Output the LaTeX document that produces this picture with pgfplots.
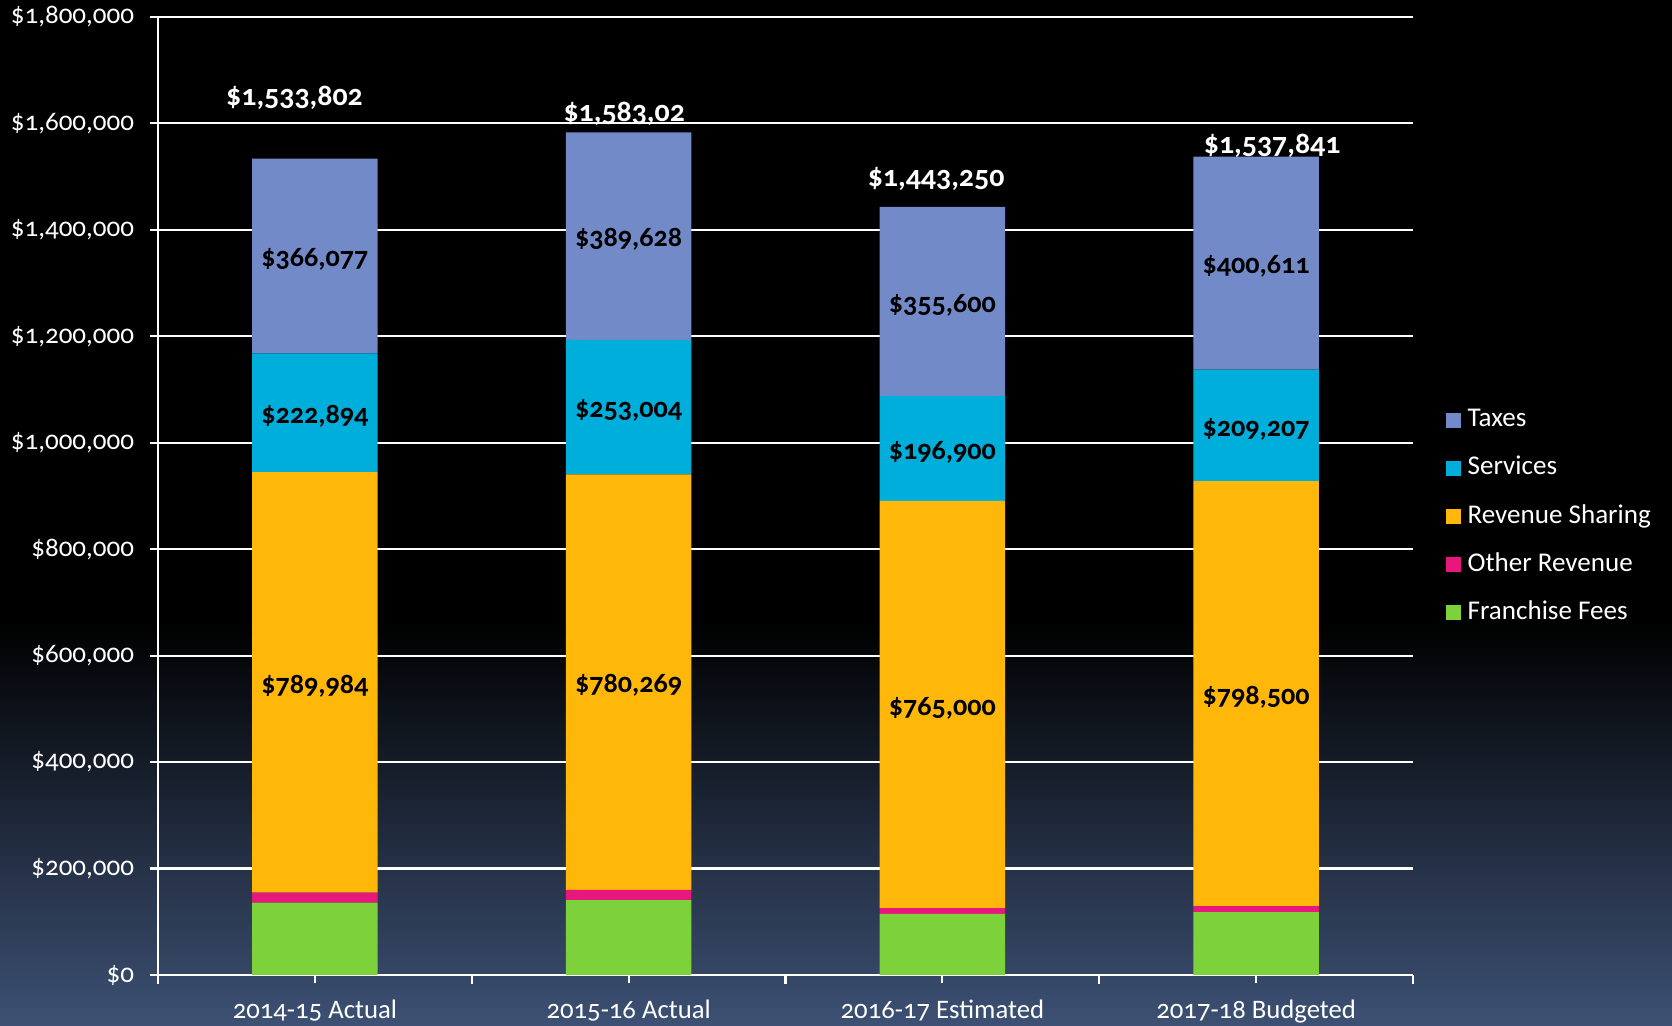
\documentclass[border=0pt]{standalone}
\usepackage{pgfplots}
\pgfplotsset{compat=1.18}
\usepackage{fontspec}
\setmainfont{Carlito}[Numbers=OldStyle]
\definecolor{cTax}{RGB}{114,138,200}
\definecolor{cSer}{RGB}{0,174,219}
\definecolor{cRev}{RGB}{255,183,10}
\definecolor{cOth}{RGB}{232,23,125}
\definecolor{cFra}{RGB}{125,209,58}
\definecolor{bgBot}{RGB}{61,81,116}
\pgfplotsset{sqlegend/.style={legend image code/.code={\fill[##1,draw=none] (0cm,-0.075cm) rectangle (0.15cm,0.075cm);}}}
\tikzset{seg/.style={font=\bfseries\fontsize{8}{9}\selectfont, text=black, yshift=-0.35mm},
         tot/.style={font=\bfseries\fontsize{8.5}{10}\selectfont, text=white, yshift=-0.15mm}}
\begin{document}
\begin{tikzpicture}
\fill[black] (0,0) rectangle (16.72,10.26);
\shade[top color=black, bottom color=bgBot] (0,0) rectangle (16.72,4.05);
\begin{axis}[
  at={(1.58cm,0.51cm)}, anchor=south west,
  scale only axis, width=12.55cm, height=9.58cm,
  ybar stacked, bar width=0.4,
  xmin=-0.5, xmax=3.5, ymin=0, ymax=1800000,
  xtick={0,1,2,3},
  xticklabels={2014-15 Actual,2015-16 Actual,2016-17 Estimated,2017-18 Budgeted},
  extra x ticks={-0.5,0.5,1.5,2.5,3.5},
  extra x tick labels={},
  extra x tick style={major tick length=0.9mm},
  ytick={0,200000,400000,600000,800000,1000000,1200000,1400000,1600000,1800000},
  yticklabels={{\$0},{\$200,000},{\$400,000},{\$600,000},{\$800,000},{\$1,000,000},{\$1,200,000},{\$1,400,000},{\$1,600,000},{\$1,800,000}},
  ymajorgrids,
  grid style={white, line width=0.6pt},
  axis x line*=bottom, axis y line*=left,
  axis line style={white, line width=0.7pt},
  tick align=outside,
  tick style={white, line width=0.6pt},
  major tick length=0.85mm,
  yticklabel style={white, font=\fontsize{7.7}{9}\selectfont, xshift=-0.3mm},
  xticklabel style={white, font=\fontsize{7.6}{9}\selectfont, yshift=-0.4mm},
  reverse legend,
  legend style={draw=none, fill=none, text=white, font=\fontsize{7.7}{9}\selectfont,
    at={(1.017,0.478)}, anchor=west, row sep=1.0mm},
  legend cell align=left,
  clip=false,
  after end axis/.code={
    \node[seg] at (axis cs:0,549839) {\$789,984};
    \node[seg] at (axis cs:0,1056278) {\$222,894};
    \node[seg] at (axis cs:0,1350764) {\$366,077};
    \node[seg] at (axis cs:1,550255) {\$780,269};
    \node[seg] at (axis cs:1,1066891) {\$253,004};
    \node[seg] at (axis cs:1,1388207) {\$389,628};
    \node[seg] at (axis cs:2,508250) {\$765,000};
    \node[seg] at (axis cs:2,989200) {\$196,900};
    \node[seg] at (axis cs:2,1265450) {\$355,600};
    \node[seg] at (axis cs:3,528773) {\$798,500};
    \node[seg] at (axis cs:3,1032627) {\$209,207};
    \node[seg] at (axis cs:3,1337536) {\$400,611};
    \node[tot] at (axis cs:-0.065,1650000) {\$1,533,802};
    \node[tot] at (axis cs:0.986,1620000) {\$1,583,02};
    \node[tot] at (axis cs:1.98,1498000) {\$1,443,250};
    \node[tot] at (axis cs:3.051,1560000) {\$1,537,841};
  },
]
\addplot[fill=cFra, draw=none, sqlegend] coordinates {(0,136000) (1,140500) (2,114900) (3,118000)};
\addplot[fill=cOth, draw=none, sqlegend] coordinates {(0,18847) (1,19620) (2,10850) (3,11523)};
\addplot[fill=cRev, draw=none, sqlegend] coordinates {(0,789984) (1,780269) (2,765000) (3,798500)};
\addplot[fill=cSer, draw=none, sqlegend] coordinates {(0,222894) (1,253004) (2,196900) (3,209207)};
\addplot[fill=cTax, draw=none, sqlegend] coordinates {(0,366077) (1,389628) (2,355600) (3,400611)};
\legend{Franchise Fees,Other Revenue,Revenue Sharing,Services,Taxes}
\end{axis}
\pgfresetboundingbox
\path[use as bounding box] (0,0) rectangle (16.72,10.26);
\end{tikzpicture}
\end{document}
